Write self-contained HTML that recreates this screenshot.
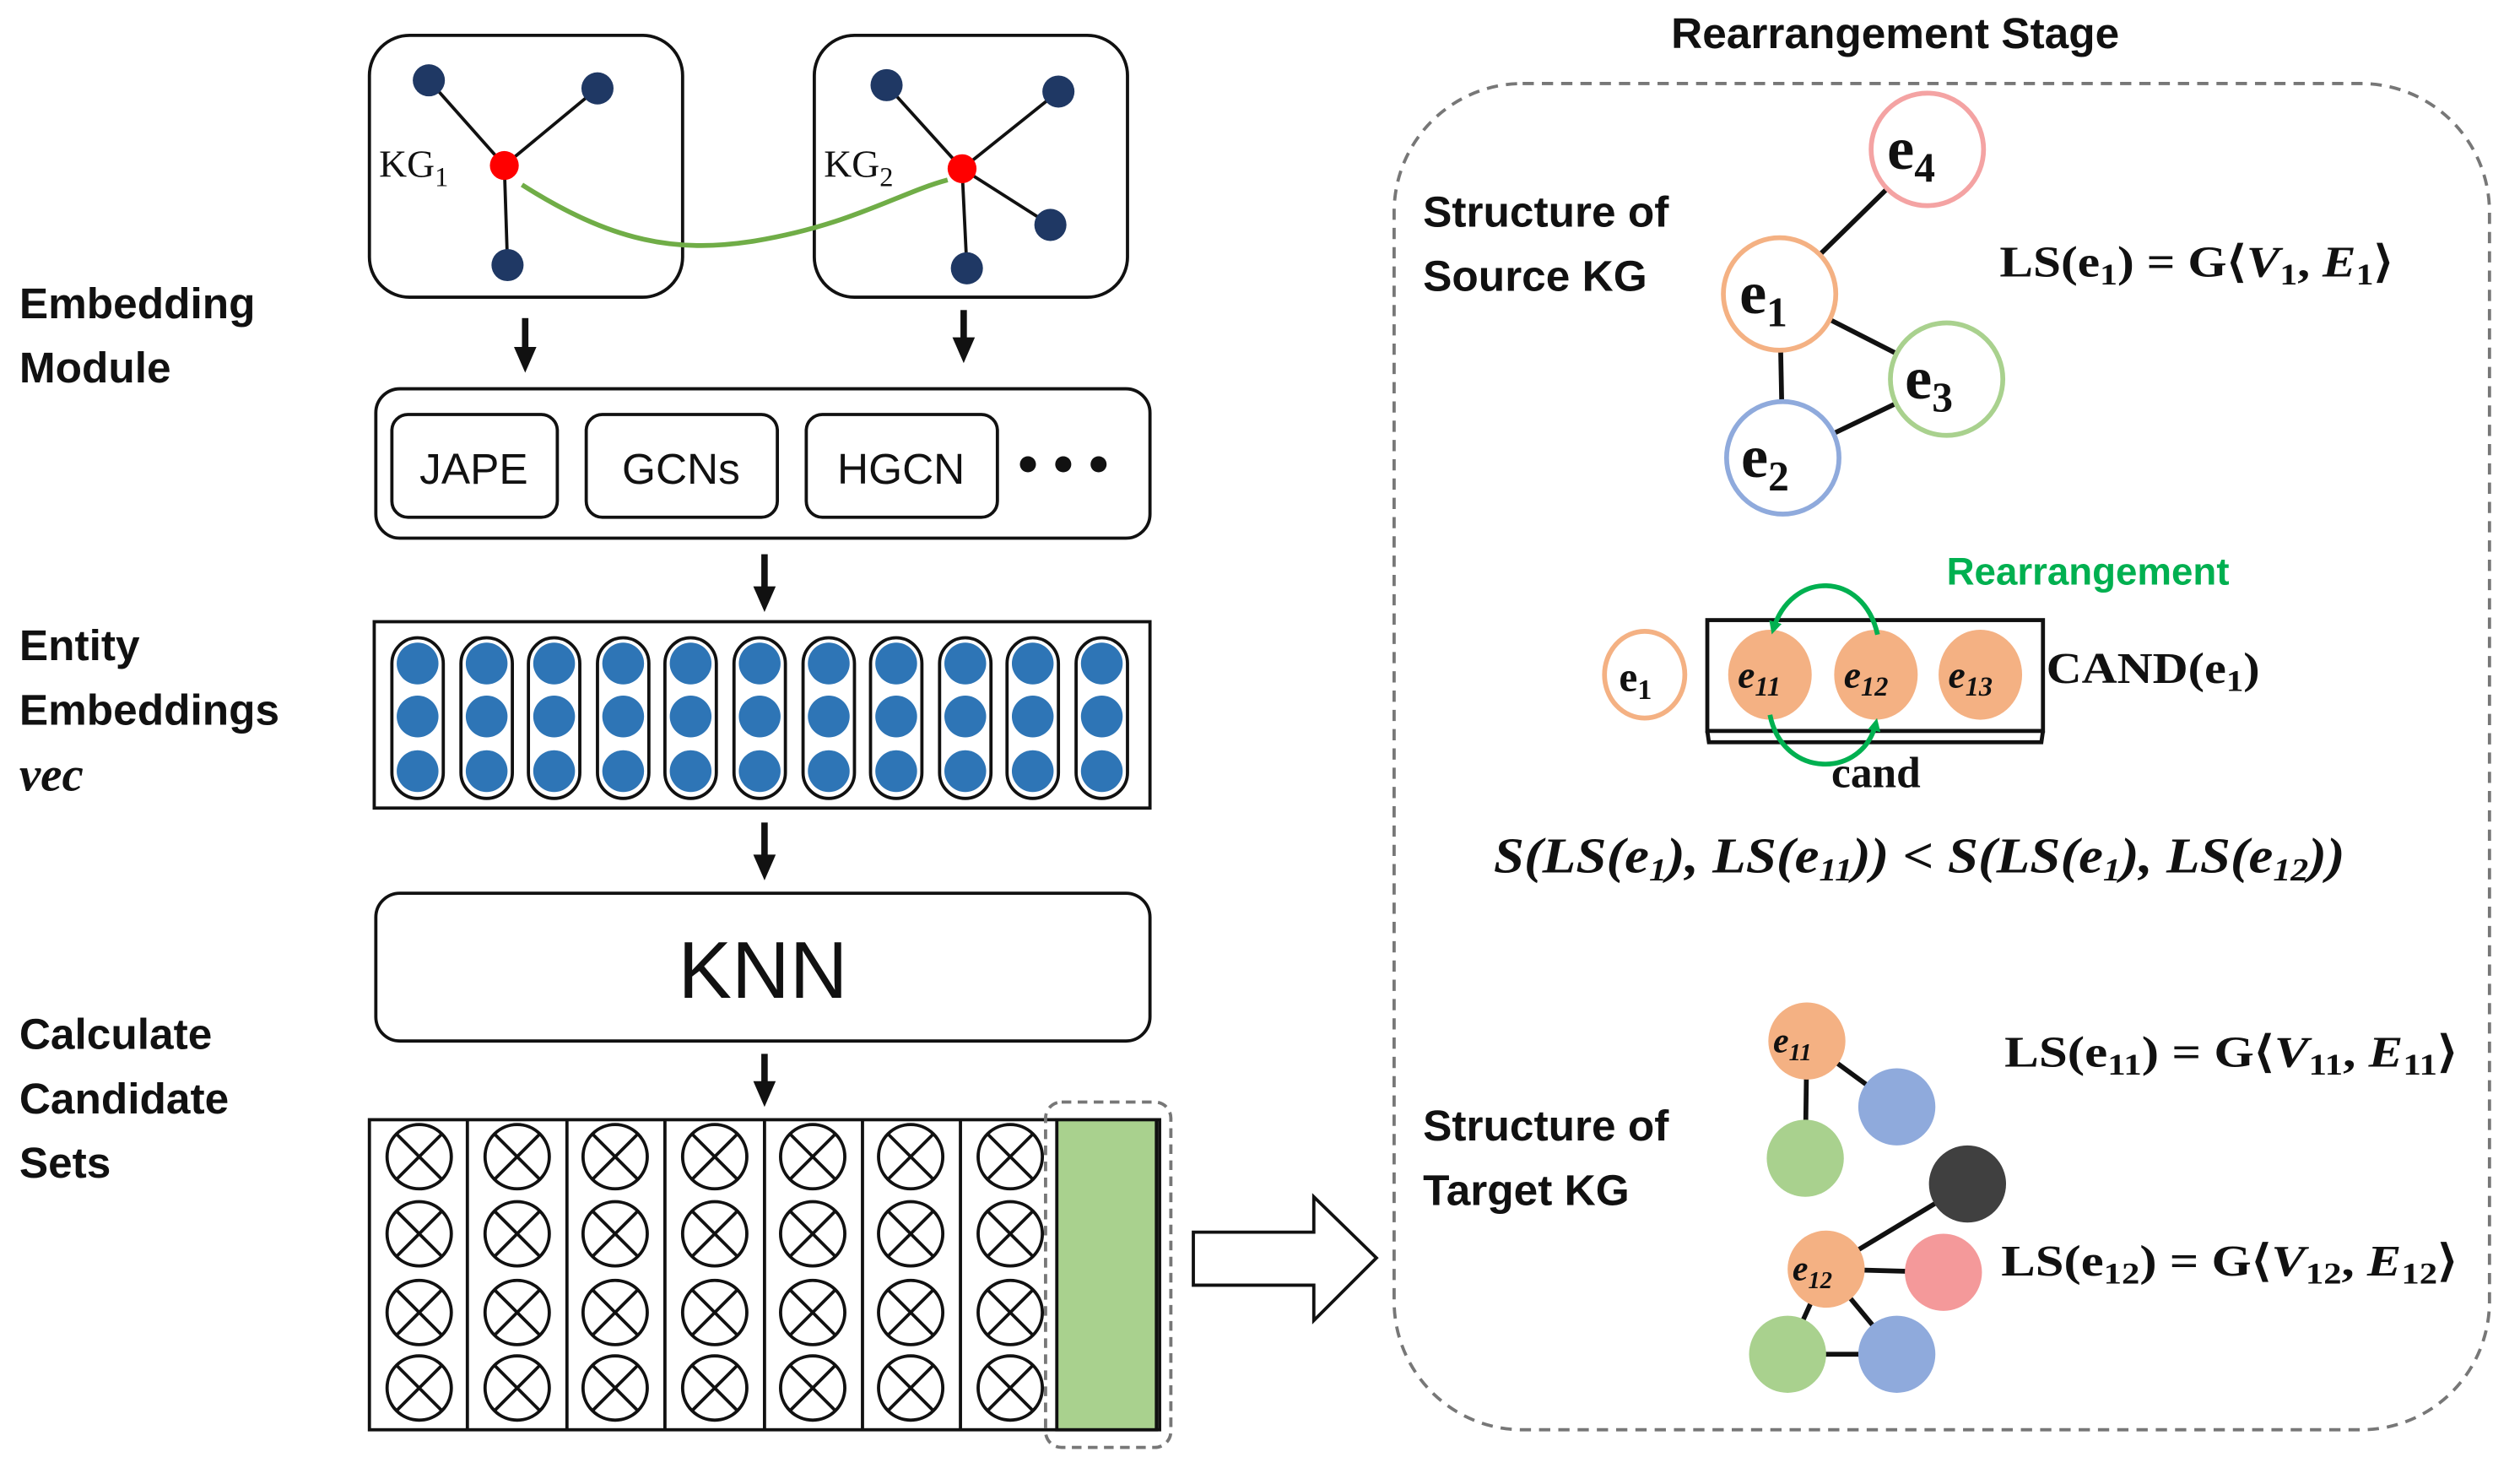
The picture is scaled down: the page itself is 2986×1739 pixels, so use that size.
<!DOCTYPE html>
<html><head><meta charset="utf-8"><style>
html,body{margin:0;padding:0;background:#fff;}
svg{display:block;}
.lb{font-family:"Liberation Sans",sans-serif;font-weight:bold;font-size:27px;fill:#111;}
.sf{font-family:"Liberation Serif",serif;font-weight:bold;fill:#111;}
.si{font-family:"Liberation Serif",serif;font-style:italic;font-weight:bold;fill:#111;}
</style></head><body>
<svg width="2986" height="1739" viewBox="0 0 1569 913.8" preserveAspectRatio="none" xmlns="http://www.w3.org/2000/svg">
<defs>
<marker id="ga" markerWidth="8" markerHeight="8" refX="5" refY="4" orient="auto" markerUnits="userSpaceOnUse"><path d="M0,0 L8,4 L0,8 z" fill="#00b050"/></marker>
</defs>
<rect x="230" y="22" width="195" height="163" rx="25" fill="none" stroke="#111" stroke-width="2"/>
<rect x="507" y="22" width="195" height="163" rx="25" fill="none" stroke="#111" stroke-width="2"/>
<g stroke="#111" stroke-width="2">
<line x1="314" y1="103" x2="267" y2="50"/><line x1="314" y1="103" x2="372" y2="55"/><line x1="314" y1="103" x2="316" y2="165"/>
<line x1="599" y1="105" x2="552" y2="53"/><line x1="599" y1="105" x2="659" y2="57"/><line x1="599" y1="105" x2="654" y2="140"/><line x1="599" y1="105" x2="602" y2="167"/>
</g>
<path d="M325,115 C380,150 420,158 470,150 C530,140 560,120 590,112" fill="none" stroke="#70ad47" stroke-width="3"/>
<g fill="#1f3864"><circle cx="267" cy="50" r="10"/><circle cx="372" cy="55" r="10"/><circle cx="316" cy="165" r="10"/>
<circle cx="552" cy="53" r="10"/><circle cx="659" cy="57" r="10"/><circle cx="654" cy="140" r="10"/><circle cx="602" cy="167" r="10"/></g>
<circle cx="314" cy="103" r="9" fill="#ff0000"/><circle cx="599" cy="105" r="9" fill="#ff0000"/>
<text x="236" y="110" class="sf" style="font-weight:normal;font-size:24px">KG<tspan font-size="17" dy="6">1</tspan></text>
<text x="513" y="110" class="sf" style="font-weight:normal;font-size:24px">KG<tspan font-size="17" dy="6">2</tspan></text>
<g fill="#111">
<rect x="325" y="198" width="4" height="20"/><path d="M320,216 L334,216 L327,232 z"/>
<rect x="598" y="193" width="4" height="18"/><path d="M593,210 L607,210 L600,226 z"/>
<rect x="474" y="345" width="4" height="22"/><path d="M469,365 L483,365 L476,381 z"/>
<rect x="474" y="512" width="4" height="22"/><path d="M469,532 L483,532 L476,548 z"/>
<rect x="474" y="656" width="4" height="19"/><path d="M469,673 L483,673 L476,689 z"/>
</g>
<rect x="234" y="242" width="482" height="93" rx="15" fill="none" stroke="#111" stroke-width="2"/>
<rect x="244" y="258" width="103" height="64" rx="10" fill="none" stroke="#111" stroke-width="2"/>
<rect x="365" y="258" width="119" height="64" rx="10" fill="none" stroke="#111" stroke-width="2"/>
<rect x="502" y="258" width="119" height="64" rx="10" fill="none" stroke="#111" stroke-width="2"/>
<g font-family="Liberation Sans,sans-serif" font-size="27" text-anchor="middle" fill="#111">
<text x="295" y="301">JAPE</text><text x="424" y="301">GCNs</text><text x="561" y="301">HGCN</text></g>
<circle cx="640" cy="289" r="5" fill="#111"/><circle cx="662" cy="289" r="5" fill="#111"/><circle cx="684" cy="289" r="5" fill="#111"/>
<rect x="233" y="387" width="483" height="116" fill="none" stroke="#111" stroke-width="2"/>
<g fill="none" stroke="#111" stroke-width="2">
<rect x="244" y="397" width="32" height="100" rx="16"/><rect x="287" y="397" width="32" height="100" rx="16"/><rect x="329" y="397" width="32" height="100" rx="16"/><rect x="372" y="397" width="32" height="100" rx="16"/><rect x="414" y="397" width="32" height="100" rx="16"/><rect x="457" y="397" width="32" height="100" rx="16"/><rect x="500" y="397" width="32" height="100" rx="16"/><rect x="542" y="397" width="32" height="100" rx="16"/><rect x="585" y="397" width="32" height="100" rx="16"/><rect x="627" y="397" width="32" height="100" rx="16"/><rect x="670" y="397" width="32" height="100" rx="16"/>
</g>
<g fill="#2e75b6">
<circle cx="260" cy="413" r="13"/><circle cx="260" cy="446" r="13"/><circle cx="260" cy="480" r="13"/>
<circle cx="303" cy="413" r="13"/><circle cx="303" cy="446" r="13"/><circle cx="303" cy="480" r="13"/>
<circle cx="345" cy="413" r="13"/><circle cx="345" cy="446" r="13"/><circle cx="345" cy="480" r="13"/>
<circle cx="388" cy="413" r="13"/><circle cx="388" cy="446" r="13"/><circle cx="388" cy="480" r="13"/>
<circle cx="430" cy="413" r="13"/><circle cx="430" cy="446" r="13"/><circle cx="430" cy="480" r="13"/>
<circle cx="473" cy="413" r="13"/><circle cx="473" cy="446" r="13"/><circle cx="473" cy="480" r="13"/>
<circle cx="516" cy="413" r="13"/><circle cx="516" cy="446" r="13"/><circle cx="516" cy="480" r="13"/>
<circle cx="558" cy="413" r="13"/><circle cx="558" cy="446" r="13"/><circle cx="558" cy="480" r="13"/>
<circle cx="601" cy="413" r="13"/><circle cx="601" cy="446" r="13"/><circle cx="601" cy="480" r="13"/>
<circle cx="643" cy="413" r="13"/><circle cx="643" cy="446" r="13"/><circle cx="643" cy="480" r="13"/>
<circle cx="686" cy="413" r="13"/><circle cx="686" cy="446" r="13"/><circle cx="686" cy="480" r="13"/>
</g>
<rect x="234" y="556" width="482" height="92" rx="15" fill="none" stroke="#111" stroke-width="2"/>
<text x="475" y="621" text-anchor="middle" font-family="Liberation Sans,sans-serif" font-size="50" fill="#111">KNN</text>
<rect x="230" y="697" width="492" height="193" fill="none" stroke="#111" stroke-width="2"/>
<g stroke="#111" stroke-width="2">
<line x1="291" y1="697" x2="291" y2="890"/><line x1="353" y1="697" x2="353" y2="890"/><line x1="414" y1="697" x2="414" y2="890"/><line x1="476" y1="697" x2="476" y2="890"/><line x1="537" y1="697" x2="537" y2="890"/><line x1="598" y1="697" x2="598" y2="890"/>
</g>
<path d="M743,767 L818,767 L818,745 L857,783 L818,822 L818,800 L743,800 z" fill="#fff" stroke="#111" stroke-width="2"/>
<text class="lb" x="12" y="198">Embedding</text><text class="lb" x="12" y="238">Module</text>
<text class="lb" x="12" y="411">Entity</text><text class="lb" x="12" y="451">Embeddings</text>
<text x="12" y="492" class="si" font-size="30">vec</text>
<text class="lb" x="12" y="653">Calculate</text><text class="lb" x="12" y="693">Candidate</text><text class="lb" x="12" y="733">Sets</text>
<text x="1180" y="30" text-anchor="middle" class="lb">Rearrangement Stage</text>
<rect x="868" y="52" width="682" height="838" rx="80" fill="none" stroke="#777" stroke-width="2" stroke-dasharray="7,5"/>
<text class="lb" x="886" y="141">Structure of</text><text class="lb" x="886" y="181">Source KG</text>
<g stroke="#111" stroke-width="3">
<line x1="1200" y1="93" x2="1108" y2="183"/><line x1="1108" y1="183" x2="1212" y2="236"/><line x1="1108" y1="183" x2="1110" y2="285"/><line x1="1110" y1="285" x2="1212" y2="236"/>
</g>
<g fill="#fff" stroke-width="3">
<circle cx="1200" cy="93" r="35" stroke="#f4a3a3"/><circle cx="1108" cy="183" r="35" stroke="#f4b183"/>
<circle cx="1212" cy="236" r="35" stroke="#a9d18e"/><circle cx="1110" cy="285" r="35" stroke="#8faadc"/>
</g>
<g class="sf" font-size="38">
<text x="1175" y="105">e<tspan font-size="26" dy="8">4</tspan></text>
<text x="1083" y="195">e<tspan font-size="26" dy="8">1</tspan></text>
<text x="1186" y="248">e<tspan font-size="26" dy="8">3</tspan></text>
<text x="1084" y="297">e<tspan font-size="26" dy="8">2</tspan></text>
</g>
<text x="1245" y="172" class="sf" font-size="27" textLength="245" lengthAdjust="spacingAndGlyphs">LS(e<tspan font-size="19" dy="5">1</tspan><tspan dy="-5">) = G⟨</tspan><tspan font-style="italic">V</tspan><tspan font-size="19" dy="5">1</tspan><tspan dy="-5">, </tspan><tspan font-style="italic">E</tspan><tspan font-size="19" dy="5">1</tspan><tspan dy="-5">⟩</tspan></text>
<text x="1300" y="364" text-anchor="middle" font-family="Liberation Sans,sans-serif" font-weight="bold" font-size="24" fill="#00b050">Rearrangement</text>
<rect x="1063" y="386" width="209" height="69" fill="none" stroke="#111" stroke-width="2.5"/>
<path d="M1063,455 L1064,462 L1271,462 L1272,455" fill="none" stroke="#111" stroke-width="2.5"/>
<ellipse cx="1024" cy="420" rx="25" ry="27" fill="#fff" stroke="#f4b183" stroke-width="3"/>
<g fill="#f4b183"><ellipse cx="1102" cy="420" rx="26" ry="28"/><ellipse cx="1168" cy="420" rx="26" ry="28"/><ellipse cx="1233" cy="420" rx="26" ry="28"/></g>
<path d="M1169,395 C1160,355 1115,355 1104,392" fill="none" stroke="#00b050" stroke-width="3" marker-end="url(#ga)"/>
<path d="M1102,445 C1110,485 1160,485 1168,450" fill="none" stroke="#00b050" stroke-width="3" marker-end="url(#ga)"/>
<text x="1008" y="430" class="sf" font-size="26">e<tspan font-size="18" dy="5">1</tspan></text>
<g class="si" font-size="24"><text x="1082" y="428">e<tspan font-size="17" dy="5">11</tspan></text><text x="1148" y="428">e<tspan font-size="17" dy="5">12</tspan></text><text x="1213" y="428">e<tspan font-size="17" dy="5">13</tspan></text></g>
<text x="1274" y="425" class="sf" font-size="27" textLength="133" lengthAdjust="spacingAndGlyphs">CAND(e<tspan font-size="19" dy="5">1</tspan><tspan dy="-5">)</tspan></text>
<text x="1168" y="490" text-anchor="middle" class="sf" font-size="27">cand</text>
<text x="1195" y="543" text-anchor="middle" class="si" font-size="31" textLength="530" lengthAdjust="spacingAndGlyphs">S(LS(e<tspan font-size="20" dy="5">1</tspan><tspan dy="-5">), LS(e</tspan><tspan font-size="20" dy="5">11</tspan><tspan dy="-5">)) &lt; S(LS(e</tspan><tspan font-size="20" dy="5">1</tspan><tspan dy="-5">), LS(e</tspan><tspan font-size="20" dy="5">12</tspan><tspan dy="-5">))</tspan></text>
<text class="lb" x="886" y="710">Structure of</text><text class="lb" x="886" y="750">Target KG</text>
<g stroke="#111" stroke-width="3">
<line x1="1125" y1="648" x2="1181" y2="689"/><line x1="1125" y1="648" x2="1124" y2="721"/>
<line x1="1137" y1="790" x2="1225" y2="737"/><line x1="1137" y1="790" x2="1210" y2="792"/><line x1="1137" y1="790" x2="1113" y2="843"/><line x1="1137" y1="790" x2="1181" y2="843"/><line x1="1113" y1="843" x2="1181" y2="843"/>
</g>
<circle cx="1125" cy="648" r="24" fill="#f4b183"/><circle cx="1181" cy="689" r="24" fill="#8faadc"/><circle cx="1124" cy="721" r="24" fill="#a9d18e"/>
<circle cx="1225" cy="737" r="24" fill="#404040"/><circle cx="1137" cy="790" r="24" fill="#f4b183"/><circle cx="1210" cy="792" r="24" fill="#f4999a"/>
<circle cx="1113" cy="843" r="24" fill="#a9d18e"/><circle cx="1181" cy="843" r="24" fill="#8faadc"/>
<g class="si" font-size="22"><text x="1104" y="655">e<tspan font-size="15" dy="5">11</tspan></text><text x="1116" y="797">e<tspan font-size="15" dy="5">12</tspan></text></g>
<text x="1248" y="664" class="sf" font-size="27" textLength="282" lengthAdjust="spacingAndGlyphs">LS(e<tspan font-size="19" dy="5">11</tspan><tspan dy="-5">) = G⟨</tspan><tspan font-style="italic">V</tspan><tspan font-size="19" dy="5">11</tspan><tspan dy="-5">, </tspan><tspan font-style="italic">E</tspan><tspan font-size="19" dy="5">11</tspan><tspan dy="-5">⟩</tspan></text>
<text x="1246" y="794" class="sf" font-size="27" textLength="284" lengthAdjust="spacingAndGlyphs">LS(e<tspan font-size="19" dy="5">12</tspan><tspan dy="-5">) = G⟨</tspan><tspan font-style="italic">V</tspan><tspan font-size="19" dy="5">12</tspan><tspan dy="-5">, </tspan><tspan font-style="italic">E</tspan><tspan font-size="19" dy="5">12</tspan><tspan dy="-5">⟩</tspan></text>
<g fill="none" stroke="#111" stroke-width="2">
<circle cx="261" cy="720" r="20"/><circle cx="322" cy="720" r="20"/><circle cx="383" cy="720" r="20"/><circle cx="445" cy="720" r="20"/><circle cx="506" cy="720" r="20"/><circle cx="567" cy="720" r="20"/><circle cx="629" cy="720" r="20"/>
<circle cx="261" cy="768" r="20"/><circle cx="322" cy="768" r="20"/><circle cx="383" cy="768" r="20"/><circle cx="445" cy="768" r="20"/><circle cx="506" cy="768" r="20"/><circle cx="567" cy="768" r="20"/><circle cx="629" cy="768" r="20"/>
<circle cx="261" cy="817" r="20"/><circle cx="322" cy="817" r="20"/><circle cx="383" cy="817" r="20"/><circle cx="445" cy="817" r="20"/><circle cx="506" cy="817" r="20"/><circle cx="567" cy="817" r="20"/><circle cx="629" cy="817" r="20"/>
<circle cx="261" cy="864" r="20"/><circle cx="322" cy="864" r="20"/><circle cx="383" cy="864" r="20"/><circle cx="445" cy="864" r="20"/><circle cx="506" cy="864" r="20"/><circle cx="567" cy="864" r="20"/><circle cx="629" cy="864" r="20"/>
</g>
<g stroke="#111" stroke-width="2">
<path d="M247,706l28,28M275,706l-28,28M308,706l28,28M336,706l-28,28M369,706l28,28M397,706l-28,28M431,706l28,28M459,706l-28,28M492,706l28,28M520,706l-28,28M553,706l28,28M581,706l-28,28M615,706l28,28M643,706l-28,28"/>
<path d="M247,754l28,28M275,754l-28,28M308,754l28,28M336,754l-28,28M369,754l28,28M397,754l-28,28M431,754l28,28M459,754l-28,28M492,754l28,28M520,754l-28,28M553,754l28,28M581,754l-28,28M615,754l28,28M643,754l-28,28"/>
<path d="M247,803l28,28M275,803l-28,28M308,803l28,28M336,803l-28,28M369,803l28,28M397,803l-28,28M431,803l28,28M459,803l-28,28M492,803l28,28M520,803l-28,28M553,803l28,28M581,803l-28,28M615,803l28,28M643,803l-28,28"/>
<path d="M247,850l28,28M275,850l-28,28M308,850l28,28M336,850l-28,28M369,850l28,28M397,850l-28,28M431,850l28,28M459,850l-28,28M492,850l28,28M520,850l-28,28M553,850l28,28M581,850l-28,28M615,850l28,28M643,850l-28,28"/>
</g>
<rect x="658" y="697" width="62" height="193" fill="#a9d18e" stroke="#111" stroke-width="2"/>
<rect x="651" y="686" width="78" height="215" rx="10" fill="none" stroke="#777" stroke-width="2" stroke-dasharray="6,4"/>
</svg>
</body></html>
